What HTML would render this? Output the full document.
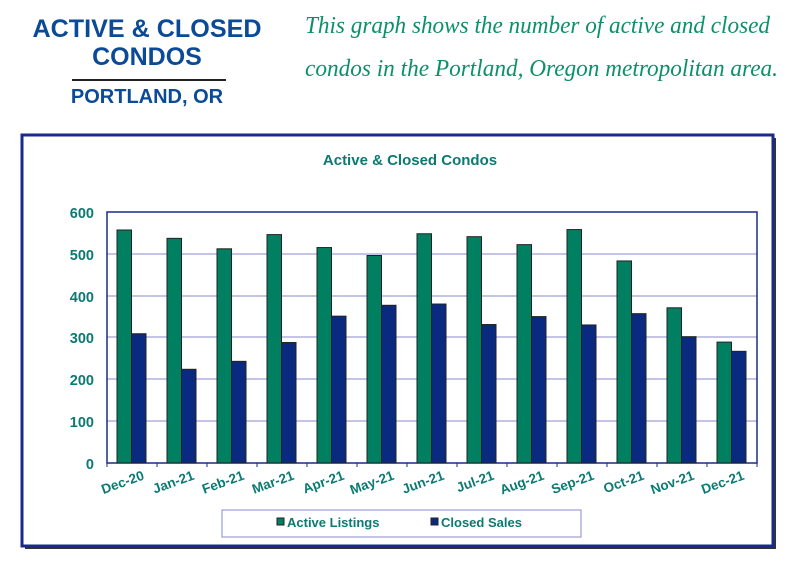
<!DOCTYPE html>
<html><head><meta charset="utf-8"><style>body{margin:0;background:#fff}svg{display:block}</style></head><body>
<svg width="800" height="567" xmlns="http://www.w3.org/2000/svg" font-family="Liberation Sans, sans-serif">
<g fill="#0a4a96" font-weight="bold" text-anchor="middle">
<text x="147" y="37" font-size="25" textLength="229" lengthAdjust="spacingAndGlyphs">ACTIVE &amp; CLOSED</text>
<text x="147" y="65" font-size="25">CONDOS</text>
<text x="147" y="103" font-size="20">PORTLAND, OR</text>
</g>
<rect x="72" y="79" width="154" height="2" fill="#222"/>
<g fill="#0d9068" font-family="Liberation Serif, serif" font-style="italic" font-size="24">
<text x="305" y="33" textLength="465" lengthAdjust="spacingAndGlyphs">This graph shows the number of active and closed</text>
<text x="305" y="76" textLength="473" lengthAdjust="spacingAndGlyphs">condos in the Portland, Oregon metropolitan area.</text>
</g>
<rect x="25" y="138" width="751" height="411" fill="#333"/>
<rect x="22" y="135" width="751" height="411" fill="#fff" stroke="#1a2a8a" stroke-width="3"/>
<text x="410" y="165" text-anchor="middle" font-weight="bold" font-size="15" fill="#0b7a72">Active &amp; Closed Condos</text>
<g id="grid" stroke="#8888cc" stroke-width="1">
<line x1="107" x2="757" y1="254" y2="254"/><line x1="107" x2="757" y1="296" y2="296"/>
<line x1="107" x2="757" y1="337" y2="337"/><line x1="107" x2="757" y1="379" y2="379"/>
<line x1="107" x2="757" y1="421" y2="421"/>
</g>
<rect x="107" y="212" width="650" height="251" fill="none" stroke="#1a2a8a" stroke-width="1.5"/>
<g font-weight="bold" font-size="14.5" fill="#0b7a72" text-anchor="end">
<text x="94" y="218">600</text><text x="94" y="260">500</text><text x="94" y="302">400</text>
<text x="94" y="343">300</text><text x="94" y="385">200</text><text x="94" y="427">100</text><text x="94" y="469">0</text>
</g>
<g id="bars" stroke="#222" stroke-width="1"></g>
<g id="ticks" stroke="#1a2a8a"></g>
<g id="labels" font-weight="bold" font-size="13.5" fill="#0b7a72" text-anchor="end"></g>
<rect x="222" y="510" width="359" height="27" fill="#fff" stroke="#8888cc" stroke-width="1"/>
<rect x="277" y="518" width="7" height="7" fill="#008060" stroke="#222"/>
<text x="287" y="527" font-weight="bold" font-size="13" fill="#0b7a72">Active Listings</text>
<rect x="431" y="518" width="7" height="7" fill="#0a2a80" stroke="#222"/>
<text x="441" y="527" font-weight="bold" font-size="13" fill="#0b7a72">Closed Sales</text>
<script>
var a=[557,537,512,546,515,496,548,541,522,558,483,371,289],c=[309,224,243,288,351,377,380,331,350,330,357,302,267],
m=["Dec-20","Jan-21","Feb-21","Mar-21","Apr-21","May-21","Jun-21","Jul-21","Aug-21","Sep-21","Oct-21","Nov-21","Dec-21"],
ns="http://www.w3.org/2000/svg",s=251/600,B=document.getElementById("bars"),T=document.getElementById("ticks"),L=document.getElementById("labels");
function el(p,t,o){var e=document.createElementNS(ns,t);for(var k in o)e.setAttribute(k,o[k]);p.appendChild(e);return e}
for(var i=0;i<13;i++){var x=107+50*i;
el(B,"rect",{x:x+10,y:463-a[i]*s,width:14.5,height:a[i]*s,fill:"#008060"});
el(B,"rect",{x:x+24.5,y:463-c[i]*s,width:14.5,height:c[i]*s,fill:"#0a2a80"});
el(T,"line",{x1:x,x2:x,y1:463,y2:467});
var t=el(L,"text",{x:0,y:0,transform:"translate("+(x+38)+",479) rotate(-20)"});t.textContent=m[i];}
el(T,"line",{x1:757,x2:757,y1:463,y2:467});
</script>
</svg>
</body></html>
